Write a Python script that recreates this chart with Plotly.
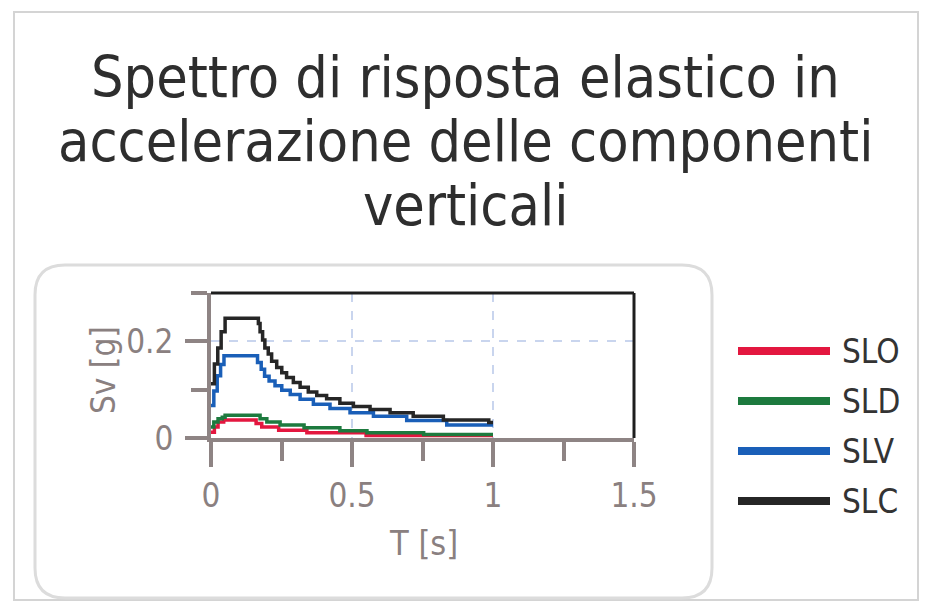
import plotly.graph_objects as go

# ---- data ----
series_names = ["SLO", "SLD", "SLV", "SLC"]
series_colors = ["#e3173f", "#1d7a3e", "#1a5fb8", "#262626"]

T_slo = [0.0, 0.012, 0.025, 0.045, 0.16, 0.18, 0.24, 0.34, 0.55, 1.0]
Sv_slo = [0.012, 0.023, 0.033, 0.037, 0.030, 0.023, 0.016, 0.011, 0.005, 0.005]

T_sld = [0.0, 0.01, 0.025, 0.04, 0.05, 0.174, 0.198, 0.245, 0.33, 0.457, 0.553, 0.754, 1.0]
Sv_sld = [0.023, 0.033, 0.040, 0.043, 0.047, 0.040, 0.033, 0.027, 0.021, 0.015, 0.011, 0.007, 0.007]

T_slv = [0.0, 0.01, 0.022, 0.034, 0.046, 0.165, 0.178, 0.19, 0.206, 0.227, 0.251,
         0.281, 0.316, 0.363, 0.422, 0.493, 0.576, 0.694, 0.836, 1.0]
Sv_slv = [0.067, 0.097, 0.129, 0.152, 0.170, 0.156, 0.142, 0.128, 0.118, 0.108, 0.099,
          0.090, 0.080, 0.070, 0.061, 0.052, 0.045, 0.036, 0.027, 0.027]

T_slc = [0.0, 0.012, 0.024, 0.036, 0.05, 0.156, 0.168, 0.174, 0.183, 0.191, 0.203, 0.215,
         0.233, 0.251, 0.268, 0.292, 0.316, 0.345, 0.375, 0.41, 0.457, 0.505, 0.564,
         0.635, 0.717, 0.824, 0.985, 1.0]
Sv_slc = [0.112, 0.153, 0.186, 0.220, 0.248, 0.248, 0.237, 0.220, 0.203, 0.186, 0.174, 0.159,
          0.146, 0.135, 0.125, 0.115, 0.105, 0.095, 0.088, 0.081, 0.072, 0.065, 0.059,
          0.052, 0.045, 0.037, 0.032, 0.032]

x_tickvals = [0, 0.5, 1, 1.5]
x_ticktext = ["0", "0.5", "1", "1.5"]
y_tickvals = [0, 0.2]
y_ticktext = ["0", "0.2"]

title_lines = ["Spettro di risposta elastico in", "accelerazione delle componenti", "verticali"]
x_title = "T [s]"
y_title = "Sv [g]"

# ---- layout geometry (pixels) ----
W, H = 930, 607
PL, PR, PT, PB = 211, 634, 293, 438   # plot area box


def px(x):
    return (x - PL) / (PR - PL)


def py(y):
    return (PB - y) / (PB - PT)


FONT = "DejaVu Sans Condensed, DejaVu Sans, sans-serif"
AXIS_GRAY = "#8e8484"
TXT_GRAY = "#8a8080"

fig = go.Figure()
data = [(T_slo, Sv_slo), (T_sld, Sv_sld), (T_slv, Sv_slv), (T_slc, Sv_slc)]
for (t, s), name, col in zip(data, series_names, series_colors):
    fig.add_trace(go.Scatter(x=t, y=s, mode="lines", name=name,
                             line=dict(color=col, width=3.5, shape="hv"),
                             showlegend=False))

shapes = []
# outer scan frame
shapes.append(dict(type="rect", xref="paper", yref="paper",
                   x0=px(14), x1=px(918), y0=py(600), y1=py(12),
                   line=dict(color="#d4d4d4", width=2), layer="below"))
# rounded panel around the chart
x0, x1, y0, y1, r = 35, 712, 265, 598, 30
path = (f"M {px(x0 + r)},{py(y0)} L {px(x1 - r)},{py(y0)} "
        f"Q {px(x1)},{py(y0)} {px(x1)},{py(y0 + r)} L {px(x1)},{py(y1 - r)} "
        f"Q {px(x1)},{py(y1)} {px(x1 - r)},{py(y1)} L {px(x0 + r)},{py(y1)} "
        f"Q {px(x0)},{py(y1)} {px(x0)},{py(y1 - r)} L {px(x0)},{py(y0 + r)} "
        f"Q {px(x0)},{py(y0)} {px(x0 + r)},{py(y0)} Z")
shapes.append(dict(type="path", xref="paper", yref="paper", path=path,
                   line=dict(color="#dcdcdc", width=3), layer="below"))
# top and right frame of the plot area (black)
shapes.append(dict(type="line", xref="paper", yref="paper", x0=0, x1=1, y0=1, y1=1,
                   line=dict(color="#1e1e1e", width=3)))
shapes.append(dict(type="line", xref="paper", yref="paper", x0=1, x1=1, y0=0, y1=1,
                   line=dict(color="#1e1e1e", width=3)))

annotations = []
# title, one annotation per line
for line, yc in zip(title_lines, [77, 141, 205]):
    annotations.append(dict(xref="paper", yref="paper", x=px(W / 2), y=py(yc),
                            text=line, showarrow=False, xanchor="center", yanchor="middle",
                            font=dict(family=FONT, size=57, color="#2e2e2e")))
# legend drawn manually (long thick swatches)
leg_y = [351, 401, 451, 501]
for name, col, yy in zip(series_names, series_colors, leg_y):
    shapes.append(dict(type="line", xref="paper", yref="paper",
                       x0=px(738), x1=px(830), y0=py(yy), y1=py(yy),
                       line=dict(color=col, width=8)))
    annotations.append(dict(xref="paper", yref="paper", x=px(840), y=py(yy),
                            text=name, showarrow=False, xanchor="left", yanchor="middle",
                            font=dict(family=FONT, size=33, color="#333333")))
# axis titles
annotations.append(dict(xref="paper", yref="paper", x=px(423), y=py(543), text=x_title,
                        showarrow=False, xanchor="center", yanchor="middle",
                        font=dict(family=FONT, size=34, color=TXT_GRAY)))
annotations.append(dict(xref="paper", yref="paper", x=px(103), y=py(370), text=y_title,
                        showarrow=False, xanchor="center", yanchor="middle", textangle=-90,
                        font=dict(family=FONT, size=33, color=TXT_GRAY)))

fig.update_layout(
    width=W, height=H,
    margin=dict(l=PL, r=W - PR, t=PT, b=H - PB, pad=0),
    paper_bgcolor="white", plot_bgcolor="white",
    shapes=shapes, annotations=annotations,
    xaxis=dict(range=[0, 1.5], tickvals=x_tickvals, ticktext=x_ticktext,
               ticks="outside", ticklen=25, tickwidth=4, tickcolor=AXIS_GRAY,
               showline=True, linecolor=AXIS_GRAY, linewidth=4,
               showgrid=True, gridcolor="#c9d5ee", griddash="dash", gridwidth=1.5,
               zeroline=False, ticklabelstandoff=0,
               minor=dict(dtick=0.25, tick0=0, ticks="outside", ticklen=19,
                          tickwidth=4, tickcolor=AXIS_GRAY, showgrid=False),
               tickfont=dict(family=FONT, size=33, color=TXT_GRAY)),
    yaxis=dict(range=[0, 0.3], tickvals=y_tickvals, ticktext=y_ticktext,
               ticks="outside", ticklen=22, tickwidth=4, tickcolor=AXIS_GRAY,
               showline=True, linecolor=AXIS_GRAY, linewidth=4,
               showgrid=True, gridcolor="#c9d5ee", griddash="dash", gridwidth=1.5,
               zeroline=False, ticklabelstandoff=5,
               minor=dict(dtick=0.1, tick0=0, ticks="outside", ticklen=16,
                          tickwidth=4, tickcolor=AXIS_GRAY, showgrid=False),
               tickfont=dict(family=FONT, size=33, color=TXT_GRAY)),
)

fig.write_html("out.html", config={"displayModeBar": False},
               post_script="document.body.style.margin='0';")
